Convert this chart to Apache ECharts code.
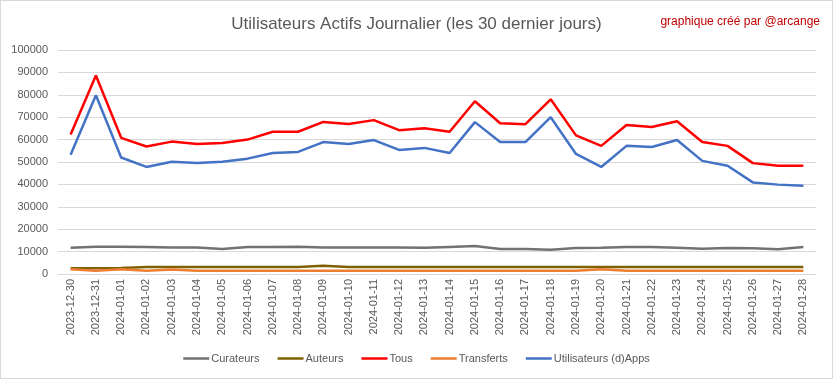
<!DOCTYPE html>
<html><head><meta charset="utf-8">
<script src="https://cdn.jsdelivr.net/npm/echarts@6/dist/echarts.min.js"></script>
<style>
html,body{margin:0;padding:0;background:#fff;}
#c{width:833px;height:379px;box-sizing:border-box;border:1px solid #d9d9d9;}
</style></head><body>
<div id="c"></div>
<script>
const categories = ["2023-12-30","2023-12-31","2024-01-01","2024-01-02","2024-01-03","2024-01-04","2024-01-05","2024-01-06","2024-01-07","2024-01-08","2024-01-09","2024-01-10","2024-01-11","2024-01-12","2024-01-13","2024-01-14","2024-01-15","2024-01-16","2024-01-17","2024-01-18","2024-01-19","2024-01-20","2024-01-21","2024-01-22","2024-01-23","2024-01-24","2024-01-25","2024-01-26","2024-01-27","2024-01-28"];
const curateurs = [11700,12200,12200,12100,11800,11800,11200,12100,12100,12200,11800,11800,11800,11800,11700,12100,12500,11200,11200,10800,11600,11700,12100,12100,11700,11300,11600,11500,11100,12100];
const auteurs = [2600,2600,2700,3100,3100,3100,3100,3100,3100,3100,3700,3100,3100,3100,3100,3100,3100,3100,3100,3100,3100,3100,3100,3100,3100,3100,3100,3100,3100,3100];
const tous = [62300,88600,60800,56900,59100,58000,58500,60000,63500,63500,67900,67000,68700,64200,65100,63500,77100,67300,66900,78000,61900,57200,66500,65600,68200,58900,57200,49500,48300,48300];
const transferts = [2100,1500,2100,1500,2000,1500,1500,1500,1500,1500,1500,1500,1500,1500,1500,1500,1500,1500,1500,1500,1500,2100,1500,1500,1500,1500,1500,1500,1500,1500];
const apps = [53200,79800,52000,47800,50100,49600,50100,51500,54000,54500,58900,58000,59800,55400,56300,54000,67800,58900,58900,70000,53600,47800,57200,56700,59800,50500,48300,40900,39900,39400];
const yMin = 0, yMax = 100000, yStep = 10000;

const chart = echarts.init(document.getElementById('c'), null, {renderer:'canvas'});
const mk = (name, data, color) => ({
  name, type:'line', data, symbol:'none', smooth:false,
  lineStyle:{width:2.5, color}, itemStyle:{color}, animation:false
});
chart.setOption({
  animation:false,
  backgroundColor:'#fff',
  title:[
    {text:'Utilisateurs Actifs Journalier (les 30 dernier jours)', left:'center', top:10,
     textStyle:{fontFamily:'Liberation Sans, sans-serif', fontSize:17, fontWeight:'normal', color:'#595959'}},
    {text:'graphique créé par @arcange', right:7, top:10,
     textStyle:{fontFamily:'Liberation Sans, sans-serif', fontSize:12, fontWeight:'normal', color:'#c00000'}}
  ],
  legend:{
    bottom:9, left:'center', icon:'path://M0,0 L26,0 L26,2.5 L0,2.5 Z', itemWidth:26, itemHeight:3, itemGap:18,
    textStyle:{fontFamily:'Liberation Sans, sans-serif', fontSize:11, color:'#595959', padding:[0,0,0,-3]},
    data:['Curateurs','Auteurs','Tous','Transferts','Utilisateurs (d)Apps']
  },
  grid:{left:57, right:16, top:49, bottom:104, containLabel:false},
  xAxis:{
    type:'category', data:categories, boundaryGap:true,
    axisLine:{lineStyle:{color:'#d9d9d9'}}, axisTick:{show:false},
    axisLabel:{rotate:90, fontSize:11, color:'#595959', fontFamily:'Liberation Sans, sans-serif', margin:5, interval:0}
  },
  yAxis:{
    type:'value', min:yMin, max:yMax, interval:yStep,
    axisLine:{show:false}, axisTick:{show:false},
    splitLine:{lineStyle:{color:'#d9d9d9'}},
    axisLabel:{fontSize:11, color:'#595959', fontFamily:'Liberation Sans, sans-serif', margin:10, formatter:v => String(v)}
  },
  series:[
    mk('Curateurs', curateurs, '#767171'),
    mk('Auteurs', auteurs, '#7f6000'),
    mk('Tous', tous, '#ff0000'),
    mk('Transferts', transferts, '#ed7d31'),
    mk('Utilisateurs (d)Apps', apps, '#4472c4')
  ]
});
</script>
</body></html>
